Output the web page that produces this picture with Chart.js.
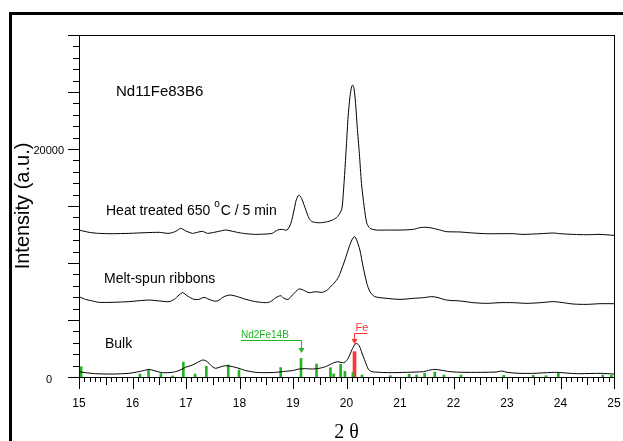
<!DOCTYPE html>
<html>
<head>
<meta charset="utf-8">
<script src="https://cdn.jsdelivr.net/npm/chart.js@4.4.1/dist/chart.umd.min.js"></script>
<style>
  html, body { margin: 0; padding: 0; background: #fff; }
  #wrap { width: 623px; height: 441px; overflow: hidden; }
</style>
</head>
<body>
<div id="wrap"><canvas id="xrd" width="623" height="441"></canvas></div>
<script>
// ============================================================
// Data (2 theta, intensity a.u.)
// ============================================================
const heatX = [15.00, 15.19, 15.37, 15.62, 15.93, 16.25, 16.50, 16.68, 16.81, 16.90, 16.99, 17.12, 17.21, 17.31, 17.40, 17.49, 17.62, 17.74, 17.87, 17.99, 18.12, 18.30, 18.49, 18.61, 18.71, 18.80, 18.89, 18.96, 19.02, 19.06, 19.11, 19.16, 19.24, 19.30, 19.36, 19.49, 19.61, 19.74, 19.83, 19.91, 19.94, 19.97, 20.00, 20.03, 20.065, 20.095, 20.115, 20.14, 20.17, 20.20, 20.24, 20.28, 20.33, 20.38, 20.44, 20.56, 20.75, 21.00, 21.25, 21.37, 21.50, 21.62, 21.75, 21.87, 22.12, 22.37, 22.62, 22.87, 23.12, 23.30, 23.62, 23.87, 23.99, 24.24, 24.49, 24.74, 25.00];
const heatY = [12890, 12690, 12600, 12570, 12600, 12660, 12690, 12600, 12780, 13040, 12830, 12600, 12690, 12780, 12600, 12660, 12780, 12890, 12780, 12660, 12570, 12510, 12540, 12600, 12890, 12950, 12890, 13480, 14650, 15520, 15960, 15670, 14650, 13920, 13620, 13530, 13590, 13770, 14060, 14700, 16100, 18150, 20490, 22830, 24590, 25460, 25610, 25320, 24000, 21950, 19620, 16990, 14940, 13480, 13040, 12890, 12890, 12890, 12950, 13100, 13130, 13040, 12890, 12750, 12720, 12630, 12570, 12570, 12570, 12510, 12570, 12630, 12570, 12510, 12480, 12510, 12420];

const meltX = [15.00, 15.12, 15.25, 15.37, 15.62, 15.93, 16.12, 16.31, 16.50, 16.68, 16.78, 16.87, 16.94, 17.02, 17.15, 17.24, 17.34, 17.43, 17.55, 17.62, 17.71, 17.83, 17.96, 18.12, 18.30, 18.49, 18.58, 18.68, 18.77, 18.83, 18.91, 18.99, 19.11, 19.19, 19.30, 19.42, 19.55, 19.64, 19.74, 19.83, 19.88, 19.97, 20.03, 20.10, 20.15, 20.19, 20.25, 20.31, 20.38, 20.44, 20.53, 20.75, 21.00, 21.25, 21.44, 21.59, 21.69, 21.87, 22.12, 22.37, 22.62, 22.87, 23.12, 23.37, 23.62, 23.87, 24.05, 24.24, 24.49, 24.74, 25.00];
const meltY = [7050, 6810, 6670, 6550, 6550, 6610, 6690, 6750, 6670, 6610, 6810, 7190, 7400, 7130, 6810, 6810, 6990, 6810, 6640, 6750, 7050, 7190, 7050, 6810, 6610, 6520, 6610, 6960, 7130, 6900, 6810, 7190, 7720, 7630, 7400, 7480, 7430, 7630, 8100, 8600, 9090, 10260, 11140, 12020, 12310, 12020, 11140, 9680, 8210, 7480, 7050, 6900, 6810, 6900, 6960, 7050, 6990, 6750, 6670, 6520, 6460, 6520, 6520, 6460, 6520, 6610, 6520, 6400, 6370, 6430, 6430];

const bulkX = [15.00, 15.12, 15.31, 15.62, 15.93, 16.12, 16.25, 16.31, 16.40, 16.56, 16.74, 16.87, 16.99, 17.12, 17.21, 17.31, 17.37, 17.43, 17.49, 17.55, 17.62, 17.74, 17.87, 17.99, 18.12, 18.30, 18.49, 18.68, 18.86, 18.99, 19.11, 19.24, 19.36, 19.49, 19.61, 19.74, 19.83, 19.92, 19.97, 20.03, 20.10, 20.16, 20.19, 20.24, 20.28, 20.35, 20.41, 20.47, 20.63, 20.81, 21.12, 21.44, 21.56, 21.65, 21.75, 21.93, 22.18, 22.50, 22.81, 22.90, 23.00, 23.24, 23.49, 23.74, 23.93, 24.18, 24.36, 24.74, 25.00];
const bulkY = [470, 380, 290, 260, 320, 470, 610, 670, 560, 380, 410, 560, 850, 1050, 1260, 1490, 1430, 1200, 910, 760, 850, 990, 910, 760, 560, 410, 380, 410, 500, 560, 700, 730, 700, 760, 910, 1200, 1340, 1260, 1290, 1640, 2370, 2890, 2950, 2720, 2220, 1350, 670, 470, 410, 380, 410, 470, 610, 670, 610, 470, 410, 410, 440, 530, 410, 320, 320, 380, 410, 320, 290, 320, 260];

// reference stick patterns
const ndFeBPos = [15.04, 16.14, 16.30, 16.53, 16.75, 16.95, 17.17, 17.38, 17.79, 17.99, 18.77, 19.15, 19.44, 19.70, 19.76, 19.89, 19.97, 20.12, 20.29, 20.82, 21.17, 21.31, 21.46, 21.65, 21.82, 22.14, 22.94, 23.49, 23.73, 23.96, 24.79, 24.95];
const ndFeBInt = [906, 263, 614, 300, 90, 1300, 263, 935, 1052, 614, 830, 1637, 1140, 818, 263, 1111, 500, 380, 175, 117, 234, 175, 322, 438, 175, 175, 146, 146, 117, 322, 175, 146];
const fePos = [20.15];
const feInt = [2220];

const xTickLabels = ['15', '16', '17', '18', '19', '20', '21', '22', '23', '24', '25'];
const yTickLabels = { 0: '0', 20000: '20000' };

const GREEN = '#22b422';
const RED = '#ff3434';
const SANS = 'Arial, "Liberation Sans", sans-serif';

const pts = (xs, ys) => xs.map((v, i) => ({ x: v, y: ys[i] }));

// ============================================================
// Axes ticks, frame, labels and peak markers
// ============================================================
const decor = {
  id: 'decor',
  beforeDraw(chart) {
    const ctx = chart.ctx;
    ctx.save();
    ctx.fillStyle = '#fff';
    ctx.fillRect(0, 0, chart.width, chart.height);
    ctx.restore();
  },
  afterDraw(chart) {
    const { ctx, chartArea: a, scales: { x, y } } = chart;
    const px = v => Math.round(v) + 0.5;
    ctx.save();
    ctx.strokeStyle = '#000';
    ctx.lineWidth = 1;

    // top and right lines
    ctx.beginPath();
    ctx.moveTo(a.left - 11, px(a.top));
    ctx.lineTo(a.right, px(a.top));
    ctx.moveTo(px(a.right), a.top);
    ctx.lineTo(px(a.right), a.bottom);
    ctx.stroke();

    // y ticks
    ctx.beginPath();
    for (let v = 0; v <= 30000; v += 1000) {
      const len = v % 5000 === 0 ? 11 : 6;
      const yy = px(y.getPixelForValue(v));
      ctx.moveTo(a.left - len, yy);
      ctx.lineTo(a.left, yy);
    }
    // x ticks
    for (let i = 150; i <= 250; i++) {
      const len = i % 10 === 0 ? 12 : (i % 5 === 0 ? 8 : 5);
      const xx = px(x.getPixelForValue(i / 10));
      ctx.moveTo(xx, a.bottom);
      ctx.lineTo(xx, a.bottom + len);
    }
    ctx.stroke();

    // y tick labels
    ctx.fillStyle = '#000';
    ctx.font = '11px ' + SANS;
    ctx.textBaseline = 'middle';
    ctx.textAlign = 'center';
    ctx.fillText(yTickLabels[0], 49, y.getPixelForValue(0) + 3);
    ctx.textAlign = 'right';
    ctx.fillText(yTickLabels[20000], a.left - 15, y.getPixelForValue(20000) + 2);

    // sample labels
    ctx.textAlign = 'left';
    ctx.font = '15px ' + SANS;
    ctx.fillText('Nd11Fe83B6', 116, 92);
    ctx.font = '14px ' + SANS;
    const t1 = 'Heat treated 650 ';
    ctx.fillText(t1, 106, 211);
    let w = ctx.measureText(t1).width;
    ctx.font = '10px ' + SANS;
    ctx.fillText('o', 106 + w, 204);
    const wo = ctx.measureText('o').width;
    ctx.font = '14px ' + SANS;
    ctx.fillText('C / 5 min', 106 + w + wo + 1, 211);
    ctx.fillText('Melt-spun ribbons', 104, 279);
    ctx.fillText('Bulk', 105, 344);

    // Nd2Fe14B marker
    const ax = px(x.getPixelForValue(19.15));
    ctx.strokeStyle = GREEN;
    ctx.fillStyle = GREEN;
    ctx.font = '10px ' + SANS;
    ctx.textBaseline = 'alphabetic';
    ctx.fillText('Nd2Fe14B', 241, 338);
    ctx.beginPath();
    ctx.moveTo(241, 340.5);
    ctx.lineTo(ax, 340.5);
    ctx.lineTo(ax, 349);
    ctx.stroke();
    ctx.beginPath();
    ctx.moveTo(ax - 3, 348);
    ctx.lineTo(ax + 3, 348);
    ctx.lineTo(ax, 353);
    ctx.closePath();
    ctx.fill();

    // Fe marker
    const fx = px(x.getPixelForValue(20.14));
    ctx.strokeStyle = RED;
    ctx.fillStyle = RED;
    ctx.font = '11px ' + SANS;
    ctx.fillText('Fe', fx + 1, 331);
    ctx.beginPath();
    ctx.moveTo(fx + 13, 333.5);
    ctx.lineTo(fx, 333.5);
    ctx.lineTo(fx, 340);
    ctx.stroke();
    ctx.beginPath();
    ctx.moveTo(fx - 3, 339);
    ctx.lineTo(fx + 3, 339);
    ctx.lineTo(fx, 344);
    ctx.closePath();
    ctx.fill();

    // outer frame
    ctx.fillStyle = '#000';
    ctx.fillRect(9, 12, chart.width, 3);
    ctx.fillRect(9, 12, 3, chart.height);
    ctx.restore();
  }
};

const lineStyle = {
  type: 'line',
  borderColor: '#000',
  borderWidth: 1,
  pointRadius: 0,
  tension: 0.25,
  fill: false
};

new Chart(document.getElementById('xrd'), {
  type: 'line',
  data: {
    datasets: [
      { ...lineStyle, label: 'Heat treated', data: pts(heatX, heatY), order: 1 },
      { ...lineStyle, label: 'Melt-spun ribbons', data: pts(meltX, meltY), order: 1 },
      { ...lineStyle, label: 'Bulk', data: pts(bulkX, bulkY), order: 1 },
      {
        type: 'bar', label: 'Nd2Fe14B', data: pts(ndFeBPos, ndFeBInt),
        backgroundColor: GREEN, barThickness: 2, grouped: false, order: 2
      },
      {
        type: 'bar', label: 'Fe', data: pts(fePos, feInt),
        backgroundColor: RED, barThickness: 3, grouped: false, order: 2
      }
    ]
  },
  options: {
    responsive: false,
    devicePixelRatio: 1,
    animation: false,
    layout: { padding: { left: 0, top: 35, right: 9, bottom: 0 } },
    plugins: { legend: { display: false }, tooltip: { enabled: false } },
    scales: {
      x: {
        type: 'linear',
        min: 15, max: 25,
        offset: false,
        afterFit: s => { s.height = 64; s.paddingLeft = 0; s.paddingRight = 0; },
        grid: { display: false },
        border: { display: true, color: '#000', width: 1 },
        ticks: {
          stepSize: 1,
          maxRotation: 0,
          padding: 11,
          color: '#000',
          font: { family: SANS, size: 12 },
          callback: v => xTickLabels[v - 15]
        },
        title: {
          display: true,
          text: '2 θ',
          color: '#000',
          font: { family: '"Times New Roman", "Liberation Serif", serif', size: 20, lineHeight: 1 },
          padding: { top: 0, bottom: -2 }
        }
      },
      y: {
        type: 'linear',
        min: 0, max: 30000,
        afterFit: s => { s.width = 79; s.paddingTop = 0; s.paddingBottom = 0; },
        grid: { display: false },
        border: { display: true, color: '#000', width: 1 },
        ticks: { display: false, stepSize: 5000 },
        title: {
          display: true,
          text: 'Intensity (a.u.)',
          color: '#000',
          font: { family: SANS, size: 20, lineHeight: 1.2 },
          padding: { top: 11, bottom: 0 }
        }
      }
    }
  },
  plugins: [decor]
});
</script>
</body>
</html>
